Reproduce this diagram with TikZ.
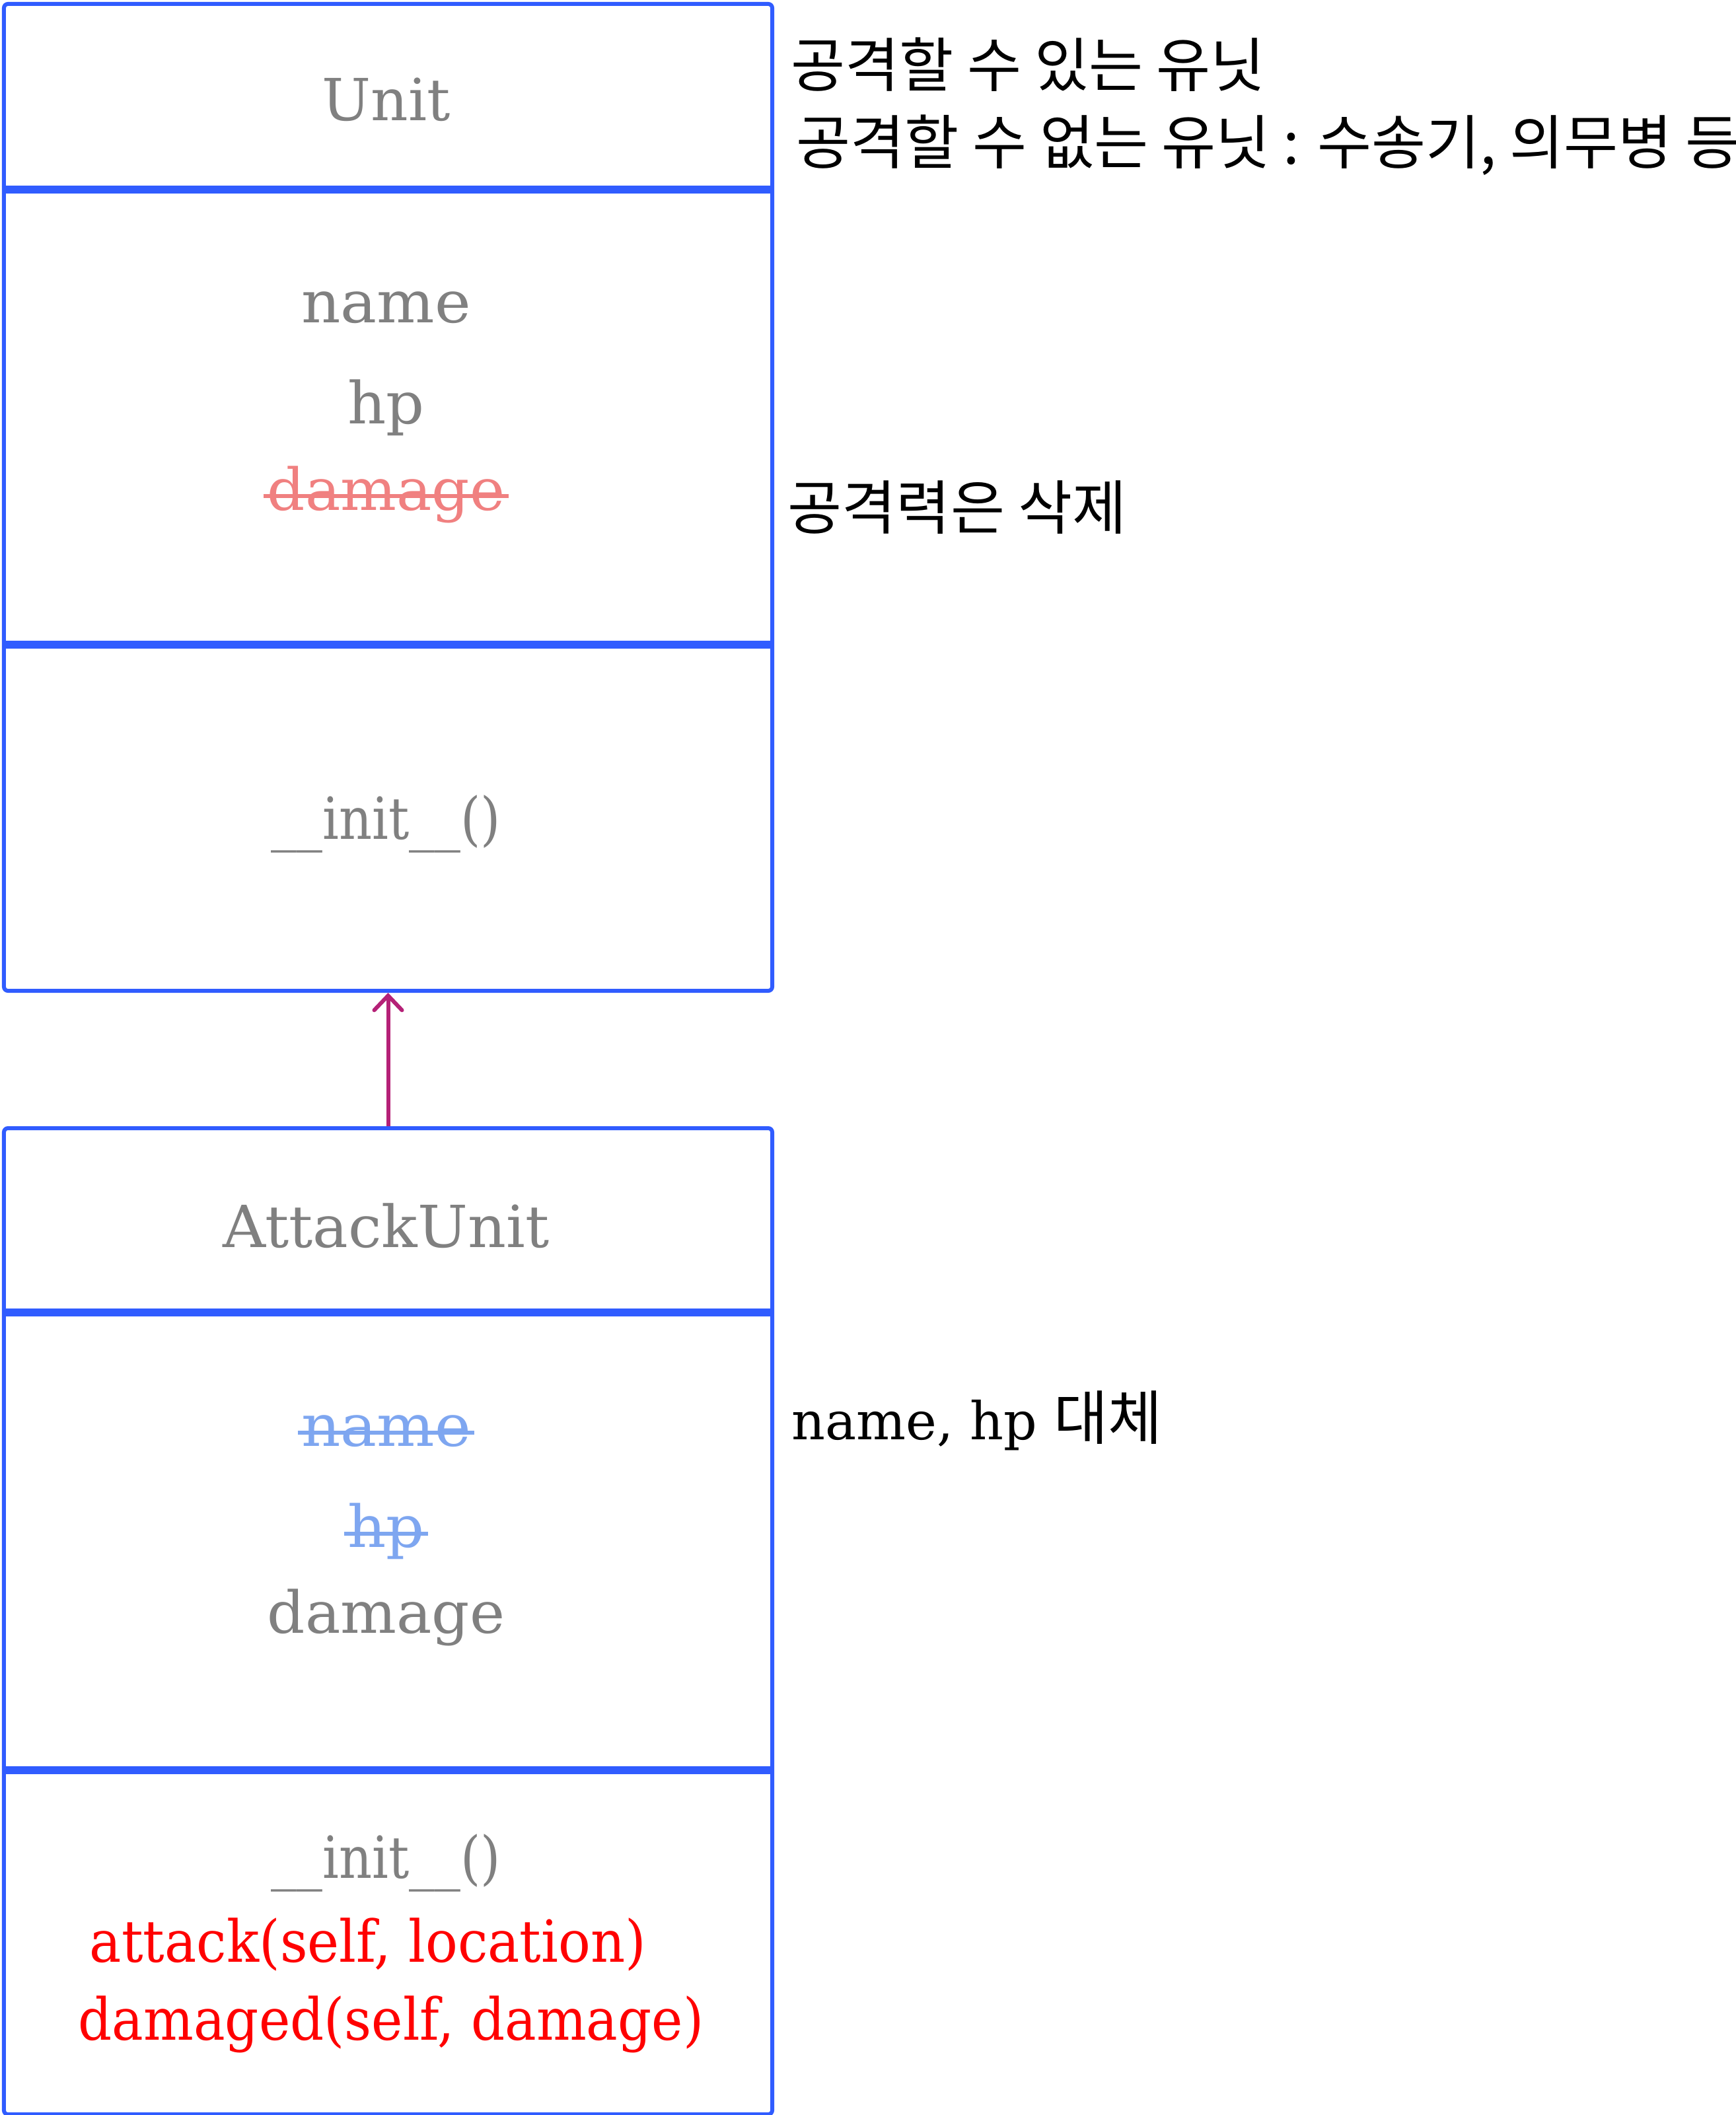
\documentclass[tikz,border=0pt]{standalone}
\usepackage{fontspec}
\usepackage{graphicx}
\setmainfont{DejaVu Serif}
\newfontfamily\kr{Noto Sans CJK KR}
\usetikzlibrary{arrows.meta}
\definecolor{bd}{RGB}{48,92,255}
\definecolor{tgray}{RGB}{128,128,128}
\definecolor{strikered}{RGB}{240,128,128}
\definecolor{strikeblue}{RGB}{126,166,240}
\definecolor{arrowc}{RGB}{181,33,119}
\definecolor{redtxt}{RGB}{255,0,0}
\begin{document}
\begin{tikzpicture}[
  box/.style={draw=bd, line width=0.06cm, rounded corners=0.06cm, minimum width=11.63cm, minimum height=14.94cm, inner sep=0pt, anchor=north west},
  sep/.style={draw=bd, line width=0.12cm},
  txt/.style={anchor=base, inner sep=0pt, text=tgray, font=\fontsize{25}{30}\selectfont},
  note/.style={inner sep=0pt, text=black, font=\fontsize{25.4}{30}\selectfont\kr},
  strikeR/.style={draw=strikered, line width=0.06cm},
  strikeB/.style={draw=strikeblue, line width=0.06cm},
  inherit/.style={draw=arrowc, line width=0.06cm, -{Straight Barb[length=0.22cm, width=0.42cm, line cap=round]}}
]
\useasboundingbox (0,0) rectangle (26.28,-32.02);
% class boxes
\node[box] (unit) at (0.03,-0.03) {};
\node[box, minimum height=14.93cm] (atk) at (0.03,-17.05) {};
% compartment separators
\draw[sep] (unit.west |- 0,-2.87) -- (unit.east |- 0,-2.87);
\draw[sep] (unit.west |- 0,-9.76) -- (unit.east |- 0,-9.76);
\draw[sep] (atk.west |- 0,-19.87) -- (atk.east |- 0,-19.87);
\draw[sep] (atk.west |- 0,-26.80) -- (atk.east |- 0,-26.80);
% inheritance
\draw[inherit] (atk.north) -- (unit.south);
% Unit texts
\node[txt] (unitname) at (5.845,-1.83) {Unit};
\node[txt] (uname) at (5.845,-4.89) {\scalebox{1.05}[1]{name}};
\node[txt] (uhp) at (5.845,-6.42) {\scalebox{1.03}[1]{hp}};
\node[txt, text=strikered] (udmg) at (5.845,-7.72) {\scalebox{1.02}[1]{damage}};
\draw[strikeR] ([xshift=-0.05cm,yshift=0.21cm]udmg.base west) -- ([xshift=0.05cm,yshift=0.21cm]udmg.base east);
\node[txt] (uinit) at (5.845,-12.70) {\scalebox{0.885}[1]{\_\_init\_\_()}};
% AttackUnit texts
\node[txt] (atkname) at (5.845,-18.88) {\scalebox{1.025}[1]{AttackUnit}};
\node[txt, text=strikeblue] (aname) at (5.845,-21.89) {\scalebox{1.05}[1]{name}};
\draw[strikeB] ([xshift=-0.05cm,yshift=0.2cm]aname.base west) -- ([xshift=0.05cm,yshift=0.2cm]aname.base east);
\node[txt, text=strikeblue] (ahp) at (5.845,-23.42) {\scalebox{1.03}[1]{hp}};
\draw[strikeB] ([xshift=-0.05cm,yshift=0.2cm]ahp.base west) -- ([xshift=0.05cm,yshift=0.2cm]ahp.base east);
\node[txt] (admg) at (5.845,-24.72) {\scalebox{1.02}[1]{damage}};
\node[txt] (ainit) at (5.845,-28.43) {\scalebox{0.885}[1]{\_\_init\_\_()}};
\node[txt, text=redtxt] (aattack) at (5.57,-29.70) {\scalebox{0.923}[1]{attack(self, location)}};
\node[txt, text=redtxt] (adamaged) at (5.92,-30.88) {\scalebox{0.91}[1]{damaged(self, damage)}};
% notes
\node[note, anchor=west] (n1) at (11.97,-0.98) {공격할 수 있는 유닛};
\node[note, anchor=west] (n2) at (12.05,-2.20) {공격할 수 없는 유닛 : 수송기, 의무병 등};
\node[note, anchor=west] (n3) at (11.92,-7.68) {공격력은 삭제};
\node[inner sep=0pt, anchor=base west, font=\fontsize{22.5}{27}\selectfont] (n4) at (11.98,-21.79) {name, hp {\kr\fontsize{25.4}{30}\selectfont 대체}};
\end{tikzpicture}
\end{document}
